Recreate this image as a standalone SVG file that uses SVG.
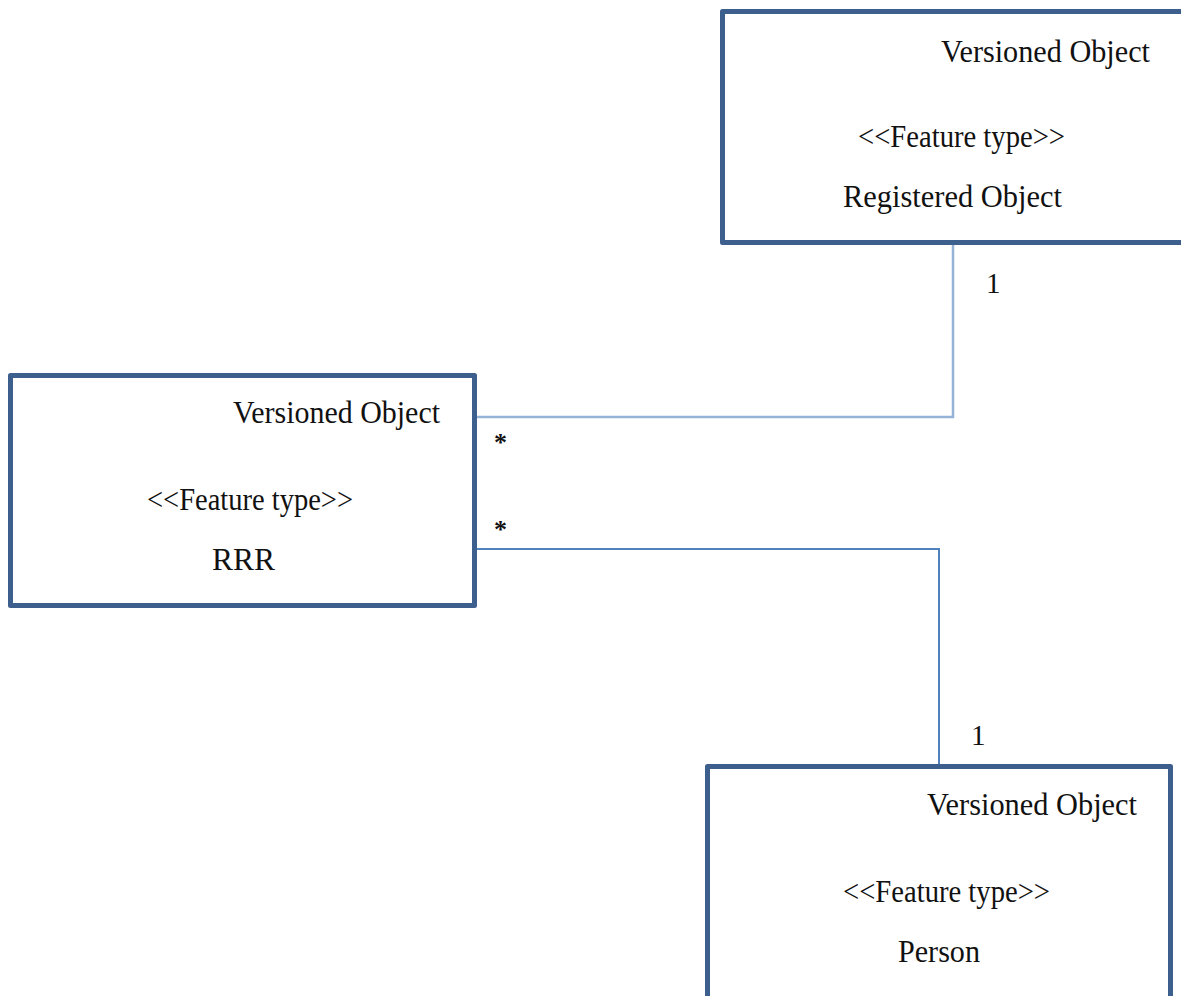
<svg xmlns="http://www.w3.org/2000/svg" width="1181" height="996" viewBox="0 0 1181 996">
<style>
.box{fill:#ffffff;stroke:#3c5f8d;stroke-width:5;stroke-linejoin:round}
.t{font-family:"Liberation Serif","Times New Roman",serif;font-size:31px;fill:#111111}
.m{font-family:"Liberation Serif","Times New Roman",serif;font-size:29px;fill:#111111}
.a{font-family:"Liberation Serif","Times New Roman",serif;font-size:26px;font-weight:bold;fill:#111111}
.c1{fill:none;stroke:#95b3d7;stroke-width:2.5}
.c2{fill:none;stroke:#4f81bd;stroke-width:2}
</style>
<rect width="1181" height="996" fill="#ffffff"/>
<g id="connectors">
<polyline class="c1" points="953,243 953,417 477,417"/>
<polyline class="c2" points="477,549 939,549 939,766"/>
<text class="m" x="986" y="293">1</text>
<text class="a" x="494" y="451">*</text>
<text class="a" x="494" y="538">*</text>
<text class="m" x="971" y="745">1</text>
</g>
<g id="registered-object">
<rect class="box" x="722.5" y="11.5" width="470" height="231"/>
<text class="t" x="941" y="62" textLength="209" lengthAdjust="spacingAndGlyphs">Versioned Object</text>
<text class="t" x="858" y="147" textLength="207" lengthAdjust="spacingAndGlyphs">&lt;&lt;Feature type&gt;&gt;</text>
<text class="t" x="843" y="207" textLength="219" lengthAdjust="spacingAndGlyphs">Registered Object</text>
</g>
<g id="rrr">
<rect class="box" x="10.5" y="375.5" width="464" height="230"/>
<text class="t" x="233" y="423" textLength="207" lengthAdjust="spacingAndGlyphs">Versioned Object</text>
<text class="t" x="147" y="510" textLength="206" lengthAdjust="spacingAndGlyphs">&lt;&lt;Feature type&gt;&gt;</text>
<text class="t" x="212" y="570" textLength="63" lengthAdjust="spacingAndGlyphs">RRR</text>
</g>
<g id="person">
<rect class="box" x="707.5" y="766.5" width="463" height="240"/>
<text class="t" x="927" y="815" textLength="210" lengthAdjust="spacingAndGlyphs">Versioned Object</text>
<text class="t" x="843" y="902" textLength="207" lengthAdjust="spacingAndGlyphs">&lt;&lt;Feature type&gt;&gt;</text>
<text class="t" x="898" y="962" textLength="82" lengthAdjust="spacingAndGlyphs">Person</text>
</g>
</svg>
